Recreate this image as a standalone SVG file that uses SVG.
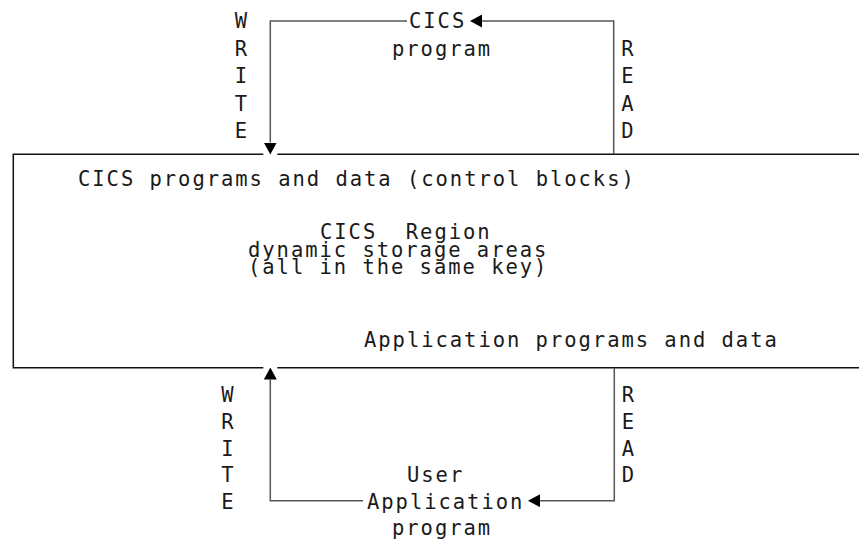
<svg xmlns="http://www.w3.org/2000/svg" width="859" height="540" viewBox="0 0 859 540">
<style>
  text { font-family: "DejaVu Sans Mono", "Liberation Mono", monospace; font-size: 20.5px; fill: #1a1a1a; white-space: pre; }
  .t { letter-spacing: 1.96px; }
  .v { text-anchor: middle; letter-spacing: 0; }
  .box { stroke: #111; stroke-width: 1.5; fill: none; }
  .conn { stroke: #555; stroke-width: 1.5; fill: none; marker-end: url(#ah); }
</style>
<defs>
  <marker id="ah" viewBox="0 0 12 13" refX="0" refY="6.5" markerWidth="12" markerHeight="13" orient="auto" markerUnits="userSpaceOnUse">
    <path d="M0,0 L12,6.5 L0,13 Z" fill="#000"/>
  </marker>
</defs>
<rect width="859" height="540" fill="#fff"/>

<g id="region">
  <path class="box" d="M13.3,154.3 H263.3 M277.3,154.3 H859 M13.3,153.6 V368.4 M13.3,367.7 H263.3 M277.3,367.7 H859"/>
  <text class="t" x="78" y="186" xml:space="preserve">CICS programs and data (control blocks)</text>
  <text class="t" x="320" y="239" xml:space="preserve">CICS  Region</text>
  <text class="t" x="248" y="256.5" xml:space="preserve">dynamic storage areas</text>
  <text class="t" x="248" y="274" xml:space="preserve">(all in the same key)</text>
  <text class="t" x="364" y="347" xml:space="preserve">Application programs and data</text>
</g>

<g id="cics-program">
  <text class="t" x="409" y="28">CICS</text>
  <text class="t" x="392" y="55.5">program</text>
</g>

<g id="user-application-program">
  <text class="t" x="407" y="482">User</text>
  <text class="t" x="367" y="508.5">Application</text>
  <text class="t" x="392" y="535">program</text>
</g>

<g id="connectors">
  <path class="conn" d="M407,21 H270.3 V142.5"/>
  <path class="conn" d="M613.7,154.3 V21 H482"/>
  <path class="conn" d="M363,500.7 H270.3 V379.5"/>
  <path class="conn" d="M614.3,367.7 V500.7 H540"/>
  <text class="v" x="241" y="28">W</text>
  <text class="v" x="241" y="55.5">R</text>
  <text class="v" x="241" y="83">I</text>
  <text class="v" x="241" y="110.5">T</text>
  <text class="v" x="241" y="138">E</text>
  <text class="v" x="627.5" y="55.5">R</text>
  <text class="v" x="627.5" y="83">E</text>
  <text class="v" x="627.5" y="110.5">A</text>
  <text class="v" x="627.5" y="138">D</text>
  <text class="v" x="227.5" y="401.5">W</text>
  <text class="v" x="227.5" y="428.5">R</text>
  <text class="v" x="227.5" y="455.5">I</text>
  <text class="v" x="227.5" y="482">T</text>
  <text class="v" x="227.5" y="508.5">E</text>
  <text class="v" x="628" y="401.5">R</text>
  <text class="v" x="628" y="428.5">E</text>
  <text class="v" x="628" y="455.5">A</text>
  <text class="v" x="628" y="482">D</text>
</g>
</svg>
